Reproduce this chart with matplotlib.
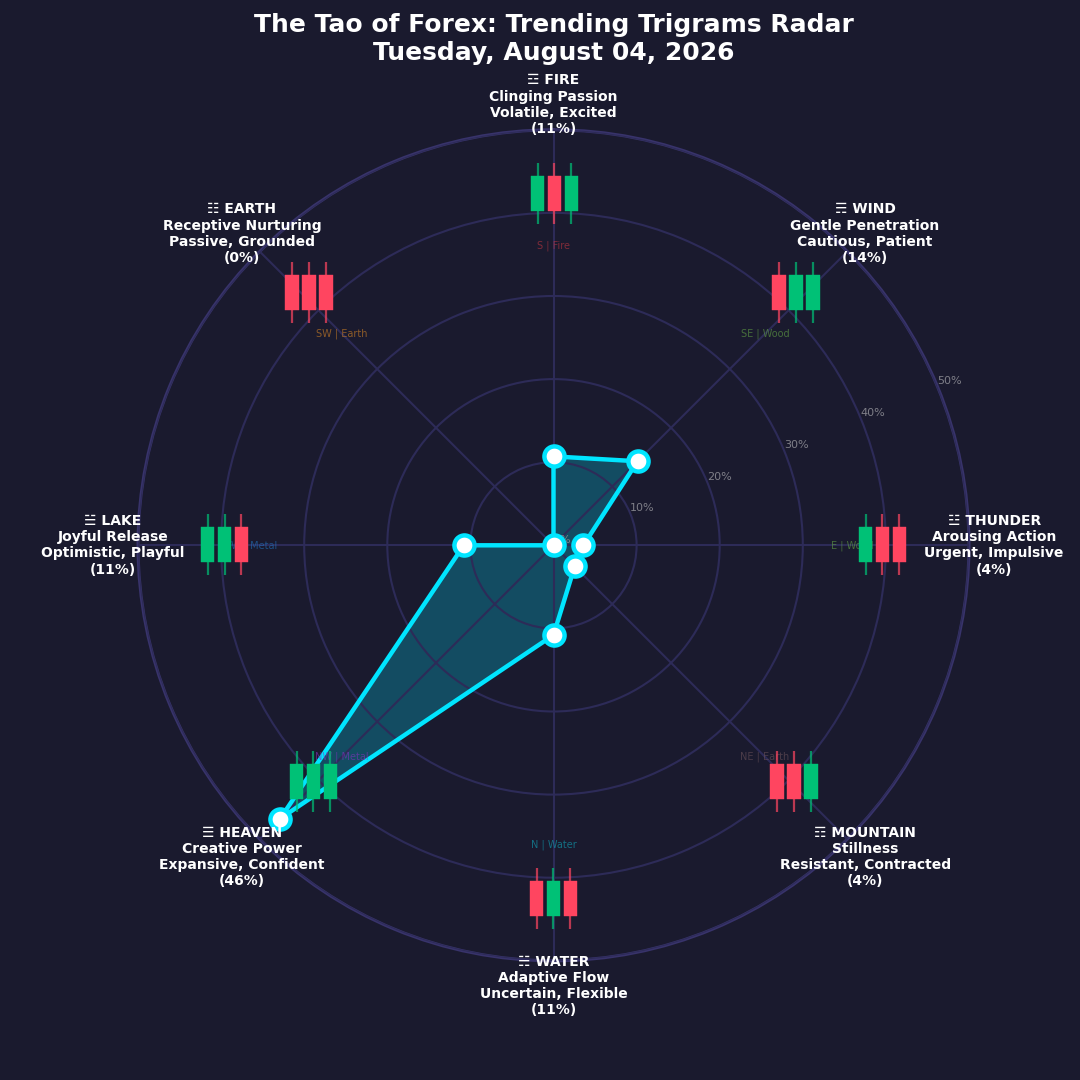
import numpy as np
import matplotlib
matplotlib.use("Agg")
import matplotlib.pyplot as plt

# ---- data ----
trigrams = ["FIRE", "WIND", "THUNDER", "MOUNTAIN", "WATER", "HEAVEN", "LAKE", "EARTH"]
symbols = ["☲", "☴", "☳", "☶", "☵", "☰", "☱", "☷"]
qualities = ["Clinging Passion", "Gentle Penetration", "Arousing Action", "Stillness",
             "Adaptive Flow", "Creative Power", "Joyful Release", "Receptive Nurturing"]
moods = ["Volatile, Excited", "Cautious, Patient", "Urgent, Impulsive", "Resistant, Contracted",
         "Uncertain, Flexible", "Expansive, Confident", "Optimistic, Playful", "Passive, Grounded"]
percent = [10.7, 14.3, 3.6, 3.6, 10.8, 46.5, 10.8, 0.0]
directions = ["S | Fire", "SE | Wood", "E | Wood", "NE | Earth",
              "N | Water", "NW | Metal", "W | Metal", "SW | Earth"]
direction_colors = ["#c23640", "#64a645", "#64a645", "#6c535a",
                    "#10a6ba", "#8531c0", "#2174c0", "#d88524"]
# 1 = bullish candle, 0 = bearish candle
candles = [[1, 0, 1], [0, 1, 1], [1, 0, 0], [0, 0, 1],
           [0, 1, 0], [1, 1, 1], [1, 1, 0], [0, 0, 0]]
r_ticks = [0, 10, 20, 30, 40, 50]
r_tick_labels = ["0%", "10%", "20%", "30%", "40%", "50%"]

# ---- style / layout ----
BG = "#1a1a2e"
CYAN = "#00e5ff"
GREEN = "#00c176"
RED = "#ff4560"
S = 1080.0
candle_centres_px = [(554.5, 193.5), (796, 292.5), (882.5, 544.5), (794, 781.5),
                     (553.5, 898.5), (313.5, 781.5), (224.5, 544.5), (309, 292.5)]

fig = plt.figure(figsize=(10.8, 10.8), dpi=100, facecolor=BG)
ax = fig.add_axes([138.0 / S, 1 - 960.8 / S, 831 / S, 831 / S], projection="polar", facecolor=BG)
ax.set_theta_zero_location("N")
ax.set_theta_direction(-1)

theta = np.deg2rad(np.arange(len(trigrams)) * 45.0)
ax.set_ylim(0, 50)
ax.set_xticks(theta)
ax.set_xticklabels([])
ax.set_yticks(r_ticks)
ax.set_yticklabels(r_tick_labels, color="#7f7f88", fontsize=8)
ax.set_rlabel_position(67.5)
ax.set_axisbelow(False)
ax.grid(True, color="#2d2b58", linewidth=1.5, alpha=1.0)
ax.spines["polar"].set_color("#38336b")
ax.spines["polar"].set_linewidth(2.2)
ax.tick_params(axis="both", length=0)

th_c = np.append(theta, theta[0])
v_c = np.append(percent, percent[0])
ax.fill(th_c, v_c, color=CYAN, alpha=0.25, linewidth=0, zorder=2)
ax.plot(th_c, v_c, color=CYAN, linewidth=3.2, zorder=4)
ax.plot(theta, percent, linestyle="none", marker="o", markersize=14.5,
        markerfacecolor="white", markeredgecolor=CYAN, markeredgewidth=3.2,
        zorder=5, clip_on=False)

for t, d, c in zip(theta, directions, direction_colors):
    ax.text(t, 36, d, color=c, alpha=0.6, fontsize=7, ha="center", va="center", zorder=6)

for t, sym, name, q, m, p in zip(theta, symbols, trigrams, qualities, moods, percent):
    ax.text(t, 53.03, f"{sym} {name}\n{q}\n{m}\n({p:.0f}%)", color="white", fontsize=10,
            fontweight="bold", ha="center", va="center", linespacing=1.2,
            zorder=10, clip_on=False)

W, H = 50.4, 61.0
for (cx, cy), row in zip(candle_centres_px, candles):
    a = fig.add_axes([(cx - W / 2) / S, 1 - (cy + H / 2) / S, W / S, H / S], facecolor="none")
    a.set_xlim(-0.5, 2.5)
    a.set_ylim(0, 1)
    a.axis("off")
    for i, up in enumerate(row):
        col = GREEN if up else RED
        a.vlines(i, 0, 1, color=col, linewidth=1.6, alpha=0.7)
        a.bar(i, 0.59, bottom=0.205, width=0.8, color=col, edgecolor=col,
              linewidth=0.3, zorder=3)

fig.text(553.5 / S, 1 - 39 / S, "The Tao of Forex: Trending Trigrams Radar\nTuesday, August 04, 2026",
         color="white", fontsize=18, fontweight="bold", ha="center", va="center", linespacing=1.2)

fig.savefig("out.png", dpi=100, facecolor=BG)
